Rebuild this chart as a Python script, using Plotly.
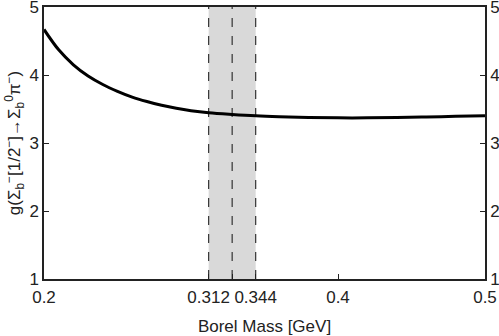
import plotly.graph_objects as go

# curva g(Borel mass)
massa = [0.20, 0.21, 0.22, 0.23, 0.24, 0.25, 0.26, 0.27, 0.28, 0.29, 0.30,
         0.312, 0.328, 0.344, 0.36, 0.38, 0.40, 0.42, 0.44, 0.46, 0.48, 0.50]
acoplamento = [4.67, 4.37, 4.15, 3.985, 3.86, 3.76, 3.675, 3.61, 3.555, 3.51, 3.475,
               3.445, 3.42, 3.40, 3.387, 3.376, 3.37, 3.37, 3.375, 3.383, 3.392, 3.40]

janela = [0.312, 0.344]
centro = 0.328

ticks_x = [0.2, 0.312, 0.328, 0.344, 0.4, 0.5]
rotulos_x = ["0.2", "0.312", "", "0.344", "0.4", "0.5"]
ticks_y = [1, 2, 3, 4, 5]

fonte = dict(family="Liberation Sans, Arial, DejaVu Sans, sans-serif", size=17, color="#222")

fig = go.Figure()

fig.add_vrect(x0=janela[0], x1=janela[1], fillcolor="#d9d9d9", opacity=1,
              line_width=0, layer="below")
for xv in [janela[0], centro, janela[1]]:
    fig.add_shape(type="line", x0=xv, x1=xv, y0=1, y1=5, xref="x", yref="y",
                  line=dict(color="#333", width=1.2, dash="dash"), layer="below")

fig.add_trace(go.Scatter(
    x=massa, y=acoplamento, mode="lines", line_shape="spline",
    line=dict(color="black", width=3), showlegend=False,
))
# traço invisível para o eixo da direita
fig.add_trace(go.Scatter(x=[0.2, 0.5], y=[1, 5], xaxis="x", yaxis="y2", mode="markers",
                         marker=dict(opacity=0), hoverinfo="skip", showlegend=False))

eixo = dict(showgrid=False, zeroline=False, showline=True, linecolor="#222",
            linewidth=1.5, ticks="inside", ticklen=5, tickcolor="#222",
            tickfont=fonte, automargin=False, ticklabeloverflow="allow")

fig.update_layout(
    width=499, height=336,
    plot_bgcolor="white", paper_bgcolor="white",
    margin=dict(l=44, r=14, t=7, b=57),
    font=fonte,
    xaxis=dict(eixo, range=[0.2, 0.5], tickvals=ticks_x, ticktext=rotulos_x,
               mirror=True, ticklabelstandoff=2,
               title=dict(text="Borel Mass [GeV]", font=fonte, standoff=14)),
    yaxis=dict(eixo, range=[1, 5], tickvals=ticks_y, mirror=True,
               title=dict(text="g(Σ<sub>b</sub><sup>−</sup>[1/2<sup>−</sup>]→Σ<sub>b</sub><sup>0</sup>π<sup>−</sup>)",
                          font=fonte, standoff=4)),
    yaxis2=dict(eixo, range=[1, 5], tickvals=ticks_y, overlaying="y",
                side="right", anchor="x"),
)

# sem margem no body para a figura ocupar a janela toda
fig.write_html("out.html", config={"displayModeBar": False},
               post_script="document.body.style.margin='0';")
